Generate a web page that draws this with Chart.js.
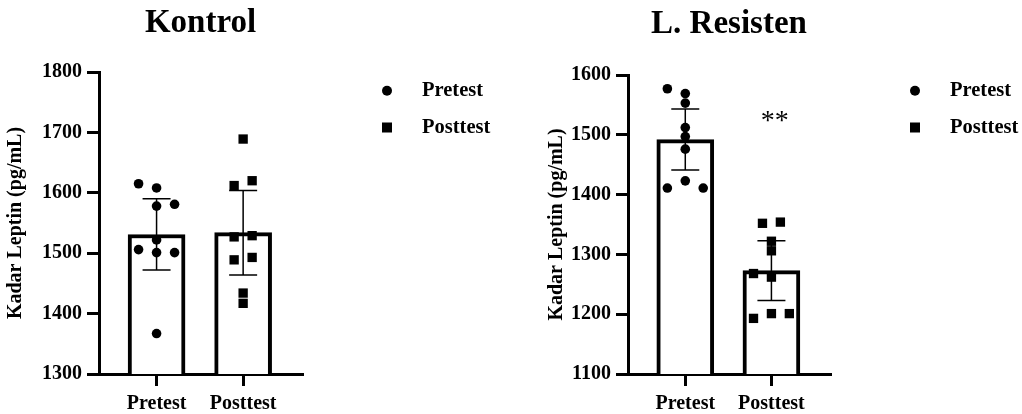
<!DOCTYPE html>
<html>
<head>
<meta charset="utf-8">
<script src="https://cdn.jsdelivr.net/npm/chart.js@4.4.1/dist/chart.umd.min.js"></script>
<style>
    body { margin: 0; background: #fff; }
    #wrap { position: relative; width: 1022px; height: 414px; }
    canvas { position: absolute; top: 0; }
</style>
</head>
<body>
<div id="wrap">
    <canvas id="kontrol" width="511" height="414" style="left:0"></canvas>
    <canvas id="resisten" width="511" height="414" style="left:511px"></canvas>
</div>
<script>
const groups = ["Pretest", "Posttest"]

// Kontrol group, pg/mL
const kontrolPre = [1615, 1608, 1578, 1581, 1522, 1506, 1501, 1501, 1367]
const kontrolPost = [1689, 1612, 1620, 1527, 1529, 1489, 1493, 1434, 1417]
const kontrolMean = [1531, 1534]
const kontrolSD = [59, 70]
const kontrolTicks = [1300, 1400, 1500, 1600, 1700, 1800]

// L. Resisten group, pg/mL
const resistenPre = [1577, 1569, 1553, 1512, 1497, 1476, 1411, 1423, 1411]
const resistenPost = [1352, 1354, 1322, 1306, 1268, 1262, 1193, 1201, 1201]
const resistenMean = [1492, 1273]
const resistenSD = [51, 50]
const resistenTicks = [1100, 1200, 1300, 1400, 1500, 1600]
const resistenStars = ["", "**"]

// side offset of each dot, in dot widths (like the prism scatter)
const kontrolPreJitter = [-1, 0, 0, 1, 0, -1, 0, 1, 0]
const kontrolPostJitter = [0, -0.5, 0.5, -0.5, 0.5, -0.5, 0.5, 0, 0]
const resistenPreJitter = [-1, 0, 0, 0, 0, 0, -1, 0, 1]
const resistenPostJitter = [-0.5, 0.5, 0, 0, -1, 0, -1, 0, 1]

const jitterStep = 0.208
const starLevel = 1509

Chart.defaults.font.family = "'Liberation Serif', 'Times New Roman', serif"
Chart.defaults.font.weight = 'bold'
Chart.defaults.color = '#000'

// mean +/- SD whiskers, drawn right after the bars so the dots sit on top
const errorBars = {
    id: 'errorBars',
    afterDatasetDraw(chart, args, opts) {
        if (args.meta.type !== 'bar') return
        const ctx = chart.ctx
        const x = chart.scales.x
        const y = chart.scales.y
        ctx.save()
        ctx.strokeStyle = '#000'
        ctx.lineWidth = 1.5
        opts.mean.forEach((m, i) => {
            const px = x.getPixelForValue(i)
            const top = y.getPixelForValue(m + opts.sd[i])
            const bot = y.getPixelForValue(m - opts.sd[i])
            ctx.beginPath()
            ctx.moveTo(px, top); ctx.lineTo(px, bot)
            ctx.moveTo(px - 14, top); ctx.lineTo(px + 14, top)
            ctx.moveTo(px - 14, bot); ctx.lineTo(px + 14, bot)
            ctx.stroke()
        })
        ctx.restore()
    }
}

// legend to the right of the plot, prism style
const sideLegend = {
    id: 'sideLegend',
    afterDraw(chart) {
        const ctx = chart.ctx
        const left = chart.chartArea.right
        const rows = [90.7, 127.5]
        ctx.save()
        ctx.fillStyle = '#000'
        ctx.beginPath()
        ctx.arc(left + 85, rows[0], 5, 0, Math.PI * 2)
        ctx.fill()
        ctx.fillRect(left + 80, rows[1] - 5, 10, 10)
        ctx.font = "bold 20.5px 'Liberation Serif', serif"
        ctx.textBaseline = 'middle'
        ctx.fillText(groups[0], left + 120, rows[0])
        ctx.fillText(groups[1], left + 120, rows[1])
        ctx.restore()
    }
}

// significance marks over the bars
const stars = {
    id: 'stars',
    afterDraw(chart, args, opts) {
        if (!opts.marks) return
        const ctx = chart.ctx
        ctx.save()
        ctx.font = "28px 'Liberation Serif', serif"
        ctx.textAlign = 'center'
        ctx.textBaseline = 'alphabetic'
        opts.marks.forEach((t, i) => {
            if (!t) return
            ctx.fillText(t, chart.scales.x.getPixelForValue(i + 0.04), chart.scales.y.getPixelForValue(starLevel))
        })
        ctx.restore()
    }
}

function makeGraph(id, title, pre, post, mean, sd, yTicks, preJitter, postJitter, marks, box) {
    const prePoints = pre.map((v, i) => ({ x: 0 + preJitter[i] * jitterStep, y: v }))
    const postPoints = post.map((v, i) => ({ x: 1 + postJitter[i] * jitterStep, y: v }))
    const bars = mean.map((m, i) => ({ x: i, y: m }))

    const axisBorder = { display: true, width: 3, color: '#000' }

    new Chart(document.getElementById(id), {
        type: 'bar',
        data: {
            datasets: [
                {
                    type: 'scatter',
                    label: groups[0],
                    data: prePoints,
                    pointStyle: 'circle',
                    pointRadius: 4.8,
                    pointBorderWidth: 0,
                    backgroundColor: '#000'
                },
                {
                    type: 'scatter',
                    label: groups[1],
                    data: postPoints,
                    pointStyle: 'rect',
                    pointRadius: 6.6,
                    pointBorderWidth: 0,
                    backgroundColor: '#000'
                },
                {
                    type: 'bar',
                    label: 'Mean',
                    data: bars,
                    backgroundColor: '#fff',
                    borderColor: '#000',
                    borderWidth: 4,
                    barThickness: 57
                }
            ]
        },
        options: {
            responsive: false,
            animation: false,
            layout: { padding: { left: box.padLeft, right: box.padRight, top: 0, bottom: 0 } },
            plugins: {
                legend: { display: false },
                tooltip: { enabled: false },
                title: {
                    display: true,
                    text: title,
                    fullSize: false,
                    font: { size: 33, weight: 'bold' },
                    padding: { top: box.titleTop, bottom: box.titleHeight - box.titleTop - 33 * 1.2 }
                },
                errorBars: { mean: mean, sd: sd },
                stars: { marks: marks }
            },
            scales: {
                x: {
                    type: 'linear',
                    offset: false,
                    min: -0.665,
                    max: 1.68,
                    afterBuildTicks: (scale) => { scale.ticks = groups.map((g, i) => ({ value: i })) },
                    afterFit: (scale) => { scale.height = 40 },
                    ticks: {
                        callback: (v) => groups[v],
                        font: { size: 20, weight: 'bold' },
                        padding: 5.5,
                        autoSkip: false,
                        maxRotation: 0
                    },
                    grid: { offset: false, drawOnChartArea: false, tickLength: 12, lineWidth: 3, color: '#000' },
                    border: axisBorder
                },
                y: {
                    min: yTicks[0],
                    max: yTicks[yTicks.length - 1],
                    afterBuildTicks: (scale) => { scale.ticks = yTicks.map(v => ({ value: v })) },
                    afterFit: (scale) => { scale.width = box.yWidth },
                    ticks: {
                        callback: (v) => String(v),
                        font: { size: 20, weight: 'bold' },
                        padding: 5
                    },
                    grid: { drawOnChartArea: false, tickLength: 12, lineWidth: 3, color: '#000' },
                    border: axisBorder,
                    title: {
                        display: true,
                        text: 'Kadar Leptin (pg/mL)',
                        font: { size: 20, weight: 'bold' },
                        padding: { top: 4, bottom: 0 }
                    }
                }
            }
        },
        plugins: [errorBars, sideLegend, stars]
    })
}

makeGraph('kontrol', 'Kontrol', kontrolPre, kontrolPost, kontrolMean, kontrolSD, kontrolTicks,
    kontrolPreJitter, kontrolPostJitter, null,
    { padLeft: 0, yWidth: 99, padRight: 209, titleTop: 4, titleHeight: 72 })

makeGraph('resisten', 'L. Resisten', resistenPre, resistenPost, resistenMean, resistenSD, resistenTicks,
    resistenPreJitter, resistenPostJitter, resistenStars,
    { padLeft: 30, yWidth: 87, padRight: 192, titleTop: 5, titleHeight: 75 })
</script>
</body>
</html>
